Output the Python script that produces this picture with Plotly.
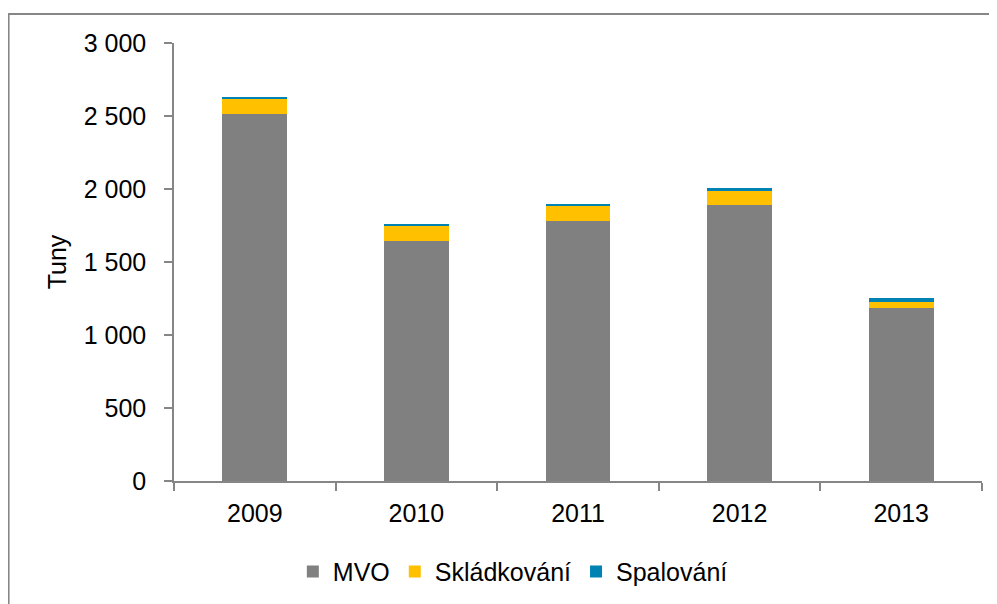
import plotly.graph_objects as go

years = ["2009", "2010", "2011", "2012", "2013"]
mvo = [2512, 1643, 1784, 1889, 1186]
skladkovani = [105, 105, 103, 98, 43]
spalovani = [14, 12, 12, 18, 27]

# page body has an 8px default margin, so the figure is offset by 8px
OFF = 8
W, H = 997 - OFF, 604 - OFF
L = 174 - OFF
R = W - (982.4 - OFF)
T = 43 - OFF
B = H - (481.3 - OFF)
pw = W - L - R
ph = H - T - B

def px(x):
    # reference-image pixel x -> paper coordinate
    return (x - OFF - L) / pw

def py(y):
    return (H - B - (y - OFF)) / ph

font = dict(family="Liberation Sans, Arial, sans-serif", size=25, color="#000000")

fig = go.Figure()
fig.add_trace(go.Bar(name="MVO", x=years, y=mvo, marker_color="#808080", marker_line_width=0))
fig.add_trace(go.Bar(name="Skládkování", x=years, y=skladkovani, marker_color="#FFC000", marker_line_width=0))
fig.add_trace(go.Bar(name="Spalování", x=years, y=spalovani, marker_color="#0083B3", marker_line_width=0))

fig.update_layout(
    width=W, height=H,
    barmode="stack", bargap=0.6,
    margin=dict(l=L, r=R, t=T, b=B, pad=0, autoexpand=False),
    paper_bgcolor="white", plot_bgcolor="white",
    font=font,
    separators=", ",
    legend=dict(orientation="h", x=px(513), y=py(572), xanchor="center", yanchor="middle",
                font=dict(family=font["family"], size=25), itemwidth=30, traceorder="normal"),
    showlegend=True,
)
fig.update_xaxes(showline=True, linecolor="#868686", linewidth=1.5, ticks="outside", tickson="boundaries",
                 ticklen=8, tickcolor="#868686", tickwidth=1.5, showgrid=False, tickfont=font,
                 ticklabelstandoff=9)
fig.update_yaxes(range=[0, 3000], dtick=500, tickformat=",d", showline=True, linecolor="#868686", linewidth=1.5,
                 ticks="outside", ticklen=8, tickcolor="#868686", tickwidth=1.5, showgrid=False,
                 zeroline=False, tickfont=font, ticklabelstandoff=13,
                 title=dict(text="Tuny", font=font, standoff=10))

# outer chart border (top and left edges visible)
fig.add_shape(type="line", xref="paper", yref="paper", x0=px(8), x1=px(1000), y0=py(14), y1=py(14),
              line=dict(color="#868686", width=2))
fig.add_shape(type="line", xref="paper", yref="paper", x0=px(8.5), x1=px(8.5), y0=py(14), y1=py(610),
              line=dict(color="#868686", width=2))

fig.write_html("out.html")
